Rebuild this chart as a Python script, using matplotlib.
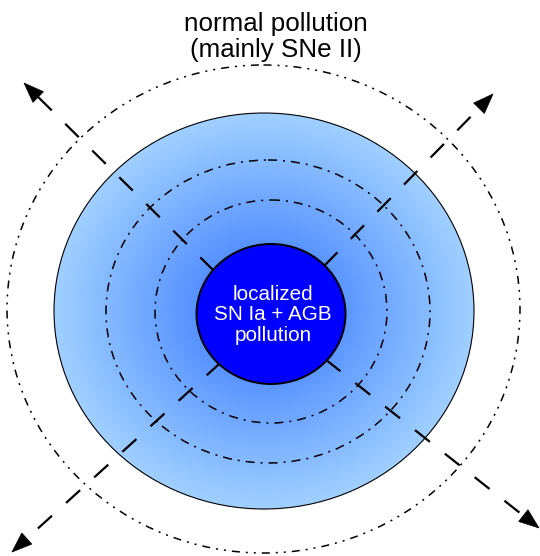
import numpy as np
import matplotlib
matplotlib.use("Agg")
import matplotlib.pyplot as plt
from matplotlib.patches import Ellipse, Polygon

plt.rcParams['font.family'] = ['Liberation Sans', 'DejaVu Sans']
plt.rcParams['lines.scale_dashes'] = False

# geometry of the sketch, in pixels (y grows downwards)
halo_center = (264, 311)
halo_size = (420, 396)
core_center = (271, 314)
core_size = (149, 140)

ring_centers = [(263.5, 309), (268, 311.5), (271, 311.5)]
ring_sizes = [(513, 488), (324, 303), (232, 223)]

# four arrows going out from the core: tip and a point on the shaft
arrow_tips = [(24, 83), (493, 94), (12, 552), (539, 528)]
arrow_through = [(210, 267), (327, 263), (218, 365), (330, 363)]
dash_phase = [0, 26, 23, 33]

outer_label = "normal pollution\n(mainly SNe II)"
core_label = "localized\nSN Ia + AGB\npollution"

px = 0.72  # one pixel in points at dpi 100

fig = plt.figure(figsize=(5.40, 5.56), dpi=100)
ax = fig.add_axes([0, 0, 1, 1])
ax.set_xlim(0, 540)
ax.set_ylim(556, 0)
ax.axis('off')

# radial gradient for the halo
cx, cy = halo_center
a, b = halo_size[0] / 2, halo_size[1] / 2
xs = np.linspace(cx - a, cx + a, 500)
ys = np.linspace(cy - b, cy + b, 500)
X, Y = np.meshgrid(xs, ys)
r = np.clip(np.sqrt(((X - cx) / a) ** 2 + ((Y - cy) / b) ** 2), 0, 1)
c_in = np.array([50, 115, 255]) / 255
c_out = np.array([160, 208, 255]) / 255
img = c_in[None, None, :] * (1 - r[..., None]) + c_out[None, None, :] * r[..., None]
im = ax.imshow(img, extent=(cx - a, cx + a, cy + b, cy - b), zorder=1,
               interpolation='bilinear')
halo = Ellipse(halo_center, halo_size[0], halo_size[1], facecolor='none',
               edgecolor='black', lw=0.8, zorder=2)
ax.add_patch(halo)
im.set_clip_path(halo)

# dash-dot rings
ring_dashes = [(8 * px, 6 * px, 2 * px, 6 * px, 2 * px, 6 * px),
               (9 * px, 6 * px, 2 * px, 6 * px),
               (9 * px, 6 * px, 2 * px, 6 * px)]
for c, s, d in zip(ring_centers, ring_sizes, ring_dashes):
    ax.add_patch(Ellipse(c, s[0], s[1], facecolor='none', edgecolor='black',
                         lw=1.1, linestyle=(0, d), zorder=3))

# arrows
head_len, head_w = 20, 15
for tip, thr, ph in zip(arrow_tips, arrow_through, dash_phase):
    t = np.array(tip, float)
    p = np.array(thr, float)
    u = (p - t) / np.linalg.norm(p - t)
    n = np.array([-u[1], u[0]])
    base = t + head_len * u
    start = p + 30 * u
    ax.plot([base[0], start[0]], [base[1], start[1]], color='black', lw=1.6,
            linestyle=(ph * px, (19 * px, 19 * px)), solid_capstyle='butt',
            dash_capstyle='butt', zorder=4)
    ax.add_patch(Polygon([t, base + head_w / 2 * n, base - head_w / 2 * n],
                         closed=True, facecolor='black', edgecolor='black',
                         lw=0.5, zorder=4))

# core
ax.add_patch(Ellipse(core_center, core_size[0], core_size[1], facecolor='#0000ff',
                     edgecolor='black', lw=1.4, zorder=5))

ax.text(273, 315, core_label, color='white', fontsize=14.9, ha='center',
        va='center', multialignment='center', linespacing=1.1, zorder=6)
ax.text(276, 37, outer_label, color='black', fontsize=18.7, ha='center',
        va='center', multialignment='center', linespacing=1.15, zorder=6)

fig.savefig('out.png', dpi=100)
